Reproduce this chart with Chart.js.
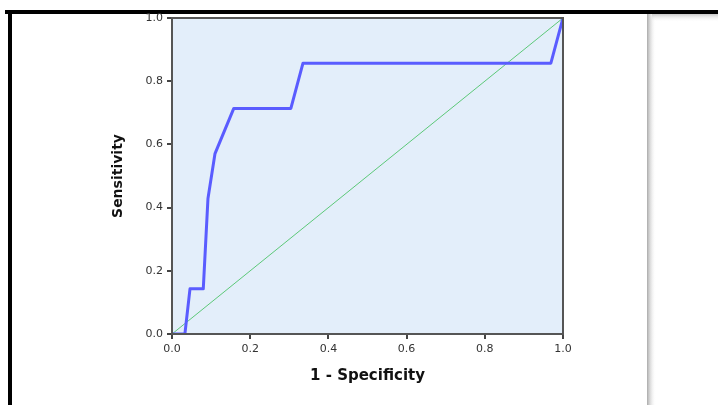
<!DOCTYPE html>
<html>
<head>
<meta charset="utf-8">
<script src="https://cdn.jsdelivr.net/npm/chart.js@4.4.1/dist/chart.umd.min.js"></script>
<style>
  html, body { margin: 0; padding: 0; background: #fff; }
  #wrap { width: 718px; height: 405px; }
</style>
</head>
<body>
<div id="wrap"><canvas id="roc" width="718" height="405"></canvas></div>
<script>
// ROC curve
const fpr = [0, 0.033, 0.046, 0.080, 0.092, 0.110, 0.158, 0.304, 0.335, 0.969, 1];
const tpr = [0, 0, 0.143, 0.143, 0.429, 0.571, 0.714, 0.714, 0.857, 0.857, 1];
// reference diagonal
const refX = [0, 1];
const refY = [0, 1];
const tickValues = [0, 0.2, 0.4, 0.6, 0.8, 1.0];

const TICK_FONT = { family: 'DejaVu Sans, sans-serif', size: 11 };
const TITLE_FONT = { family: 'DejaVu Sans, sans-serif', size: 15, weight: 'bold' };

// page decoration + plot background / frame
const frame = {
    id: 'frame',
    beforeDraw(chart){
        const ctx = chart.ctx;
        const a = chart.chartArea;
        ctx.save();
        // shadow at the right
        const g = ctx.createLinearGradient(646, 0, 656, 0);
        g.addColorStop(0, 'rgba(150,150,150,1)');
        g.addColorStop(1, 'rgba(255,255,255,0)');
        ctx.fillStyle = g;
        ctx.fillRect(647, 14, 9, 391);
        const h = ctx.createLinearGradient(0, 14, 0, 22);
        h.addColorStop(0, 'rgba(200,200,200,1)');
        h.addColorStop(1, 'rgba(255,255,255,0)');
        ctx.fillStyle = h;
        ctx.fillRect(652, 14, 66, 8);
        // black page border
        ctx.fillStyle = '#000';
        ctx.fillRect(5, 10, 713, 4);
        ctx.fillRect(8, 10, 4, 395);
        // plot background
        ctx.fillStyle = '#e3eefa';
        ctx.fillRect(a.left, a.top, a.right - a.left, a.bottom - a.top);
        ctx.restore();
    },
    afterDatasetsDraw(chart){
        const ctx = chart.ctx;
        const a = chart.chartArea;
        ctx.save();
        ctx.strokeStyle = '#555';
        ctx.lineWidth = 2;
        ctx.strokeRect(a.left, a.top, a.right - a.left, a.bottom - a.top);
        ctx.restore();
    }
};

new Chart(document.getElementById('roc'), {
    type: 'scatter',
    data: {
        datasets: [{
            data: fpr.map((x, i) => ({ x: x, y: tpr[i] })),
            showLine: true,
            borderColor: '#5a5cff',
            borderWidth: 3,
            borderJoinStyle: 'round',
            pointRadius: 0
        }, {
            data: refX.map((x, i) => ({ x: x, y: refY[i] })),
            showLine: true,
            borderColor: '#5cc878',
            borderWidth: 1,
            pointRadius: 0
        }]
    },
    options: {
        responsive: false,
        animation: false,
        layout: { padding: { left: 0, right: 155, top: 18, bottom: 0 } },
        plugins: { legend: { display: false }, tooltip: { enabled: false } },
        scales: {
            x: {
                type: 'linear',
                min: 0, max: 1,
                afterBuildTicks: s => { s.ticks = tickValues.map(v => ({ value: v })); },
                afterFit: s => { s.height = 71; },
                ticks: {
                    font: TICK_FONT, color: '#333', padding: 4,
                    maxRotation: 0,
                    callback: v => v.toFixed(1)
                },
                grid: { drawOnChartArea: false, color: '#444', tickLength: 5, lineWidth: 2 },
                border: { color: '#555', width: 2 },
                title: {
                    display: true, text: '1 - Specificity',
                    font: TITLE_FONT, color: '#111',
                    padding: { top: 0, bottom: 20 }
                }
            },
            y: {
                type: 'linear',
                min: 0, max: 1,
                afterBuildTicks: s => { s.ticks = tickValues.map(v => ({ value: v })); },
                afterFit: s => { s.width = 172; },
                ticks: {
                    font: TICK_FONT, color: '#333', padding: 4,
                    callback: v => v.toFixed(1)
                },
                grid: { drawOnChartArea: false, color: '#444', tickLength: 5, lineWidth: 2 },
                border: { color: '#444', width: 2 },
                title: {
                    display: true, text: 'Sensitivity',
                    font: { family: 'DejaVu Sans, sans-serif', size: 14, weight: 'bold' },
                    color: '#111',
                    padding: { top: 110, bottom: 0 }
                }
            }
        }
    },
    plugins: [frame]
});
</script>
</body>
</html>
